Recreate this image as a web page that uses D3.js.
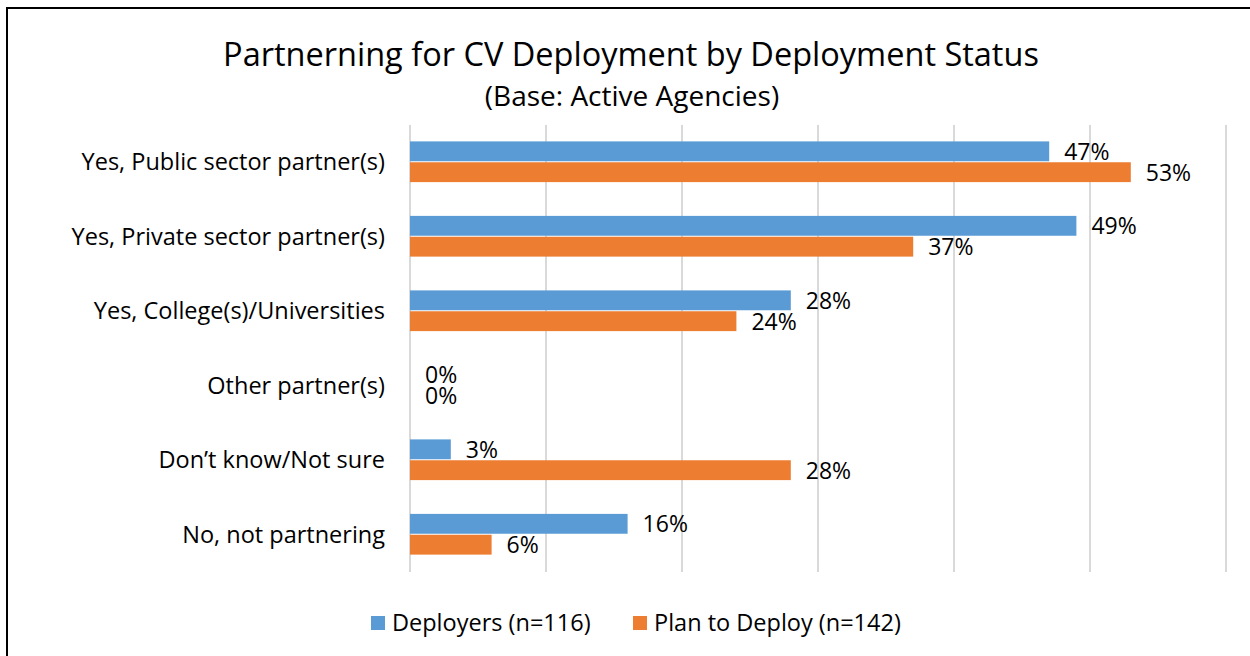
<!DOCTYPE html>
<html>
<head>
<meta charset="utf-8">
<script src="https://cdn.jsdelivr.net/npm/d3@7"></script>
<style>
  body { margin: 0; background: #fff; }
  svg text { font-family: "Open Sans", Lato, sans-serif; fill: #000; }
</style>
</head>
<body>
<script>
// chart data
const categories = [
  "Yes, Public sector partner(s)",
  "Yes, Private sector partner(s)",
  "Yes, College(s)/Universities",
  "Other partner(s)",
  "Don\u2019t know/Not sure",
  "No, not partnering"
];
const deployers = [47, 49, 28, 0, 3, 16];
const planToDeploy = [53, 37, 24, 0, 28, 6];
const seriesNames = ["Deployers (n=116)", "Plan to Deploy (n=142)"];
const colors = ["#5b9bd5", "#ed7d31"];
const xTicks = [0, 10, 20, 30, 40, 50, 60];

const width = 1250, height = 656;
const svg = d3.select("body").append("svg")
    .attr("width", width)
    .attr("height", height);

// outer frame (right/bottom fall outside the picture)
svg.append("rect")
    .attr("x", 7).attr("y", 8)
    .attr("width", 1260).attr("height", 660)
    .attr("fill", "none")
    .attr("stroke", "#000")
    .attr("stroke-width", 2);

// title
svg.append("text")
    .attr("x", 631).attr("y", 66)
    .attr("text-anchor", "middle")
    .style("font-size", "32.5px")
    .text("Partnerning for CV Deployment by Deployment Status");
svg.append("text")
    .attr("x", 632).attr("y", 106)
    .attr("text-anchor", "middle")
    .style("font-size", "28px")
    .text("(Base: Active Agencies)");

// scales
let x = d3.scaleLinear().domain([0, 60]).range([410, 1226]);
let y = d3.scaleBand().domain(categories).range([125, 572]).paddingInner(0.44).paddingOuter(0.22);
let ySub = d3.scaleBand().domain([0, 1]).range([0, y.bandwidth()]);

// gridlines
svg.selectAll("line.grid")
    .data(xTicks)
    .enter()
    .append("line")
    .attr("class", "grid")
    .attr("x1", d => x(d)).attr("x2", d => x(d))
    .attr("y1", 125).attr("y2", 572)
    .attr("stroke", "#d9d9d9")
    .attr("stroke-width", 2);

// category labels
svg.selectAll("text.cat")
    .data(categories)
    .enter()
    .append("text")
    .attr("class", "cat")
    .attr("x", 385)
    .attr("y", d => y(d) + y.bandwidth() / 2)
    .attr("dy", "0.35em")
    .attr("text-anchor", "end")
    .style("font-size", "23.5px")
    .text(d => d);

// bars
const rows = [];
categories.forEach((c, i) => {
  rows.push({ cat: c, s: 0, v: deployers[i] });
  rows.push({ cat: c, s: 1, v: planToDeploy[i] });
});

svg.selectAll("rect.bar")
    .data(rows)
    .enter()
    .append("rect")
    .attr("class", "bar")
    .attr("x", x(0))
    .attr("y", d => y(d.cat) + ySub(d.s))
    .attr("width", d => x(d.v) - x(0))
    .attr("height", ySub.bandwidth() - 1)
    .attr("fill", d => colors[d.s]);

// value labels
svg.selectAll("text.val")
    .data(rows)
    .enter()
    .append("text")
    .attr("class", "val")
    .attr("x", d => x(d.v) + 15)
    .attr("y", d => y(d.cat) + ySub(d.s) + ySub.bandwidth() / 2)
    .attr("dy", "0.35em")
    .style("font-size", "23px")
    .text(d => d.v + "%");

// legend
const legendX = [371, 633];
const legend = svg.selectAll("g.legend")
    .data(seriesNames)
    .enter()
    .append("g")
    .attr("class", "legend")
    .attr("transform", (d, i) => "translate(" + legendX[i] + ",623)");
legend.append("rect")
    .attr("x", 0).attr("y", -7)
    .attr("width", 14).attr("height", 14)
    .attr("fill", (d, i) => colors[i]);
legend.append("text")
    .attr("x", 21)
    .attr("dy", "0.35em")
    .style("font-size", "23.5px")
    .text(d => d);
</script>
</body>
</html>
